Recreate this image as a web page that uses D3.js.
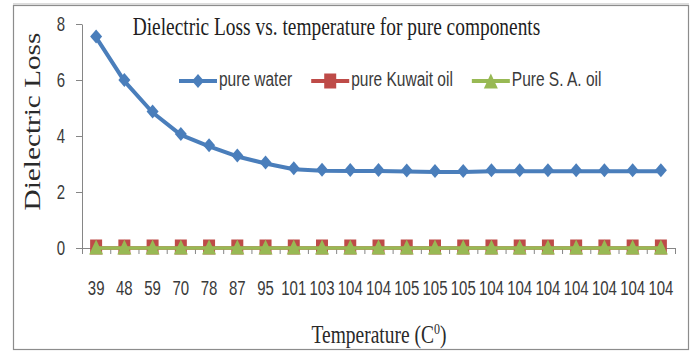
<!DOCTYPE html>
<html>
<head>
<meta charset="utf-8">
<script src="https://cdn.jsdelivr.net/npm/d3@7/dist/d3.min.js"></script>
<style>
  body { margin: 0; background: #fff; }
  svg { display: block; }
</style>
</head>
<body>
<svg width="693" height="353"></svg>
<script>
// category labels (temperatures, repeated values kept as in the sheet)
const temps = ["39","48","59","70","78","87","95","101","103","104","104",
               "105","105","105","104","104","104","104","104","104","104"];
// series values
const pureWater = [7.52,5.96,4.84,4.04,3.63,3.27,3.02,2.81,2.76,2.75,2.75,
                   2.73,2.71,2.71,2.74,2.74,2.74,2.74,2.74,2.74,2.74];
const kuwaitOil = [0,0,0,0,0,0,0,0,0,0,0,0,0,0,0,0,0,0,0,0,0];
const saOil     = [0,0,0,0,0,0,0,0,0,0,0,0,0,0,0,0,0,0,0,0,0];
const yTicks = [0,2,4,6,8];
const seriesNames = ["pure water","pure Kuwait oil","Pure S. A. oil"];

const svg = d3.select("svg");
const SY = 1.3;   // the picture is stretched vertically

// plot box
const plotL = 82, plotR = 675, plotT = 24, plotB = 248;

// chart frame
svg.append("rect")
  .attr("x", 13.5).attr("y", 5.5).attr("width", 675).attr("height", 344)
  .attr("fill", "#fff").attr("stroke", "#8c8c8c").attr("stroke-width", 1.2);
svg.append("line")
  .attr("x1", 13).attr("x2", 689).attr("y1", 4).attr("y2", 4)
  .attr("stroke", "#dcdcdc").attr("stroke-width", 2);

let x = d3.scaleBand().domain(d3.range(temps.length)).range([plotL, plotR]);
let xEdge = d3.scaleLinear().domain([0, temps.length]).range([plotL, plotR]);
let y = d3.scaleLinear().domain([0, 8]).range([plotB, plotT]);

// y axis
let gy = svg.append("g").attr("transform", `translate(${plotL},0)`)
  .call(d3.axisLeft(y).tickValues(yTicks).tickSize(6).tickSizeOuter(0));
gy.select(".domain").attr("stroke", "#868686");
gy.selectAll(".tick line").attr("stroke", "#868686");
gy.selectAll(".tick text")
  .attr("x", 0).attr("dy", 0).attr("y", 0)
  .attr("transform", `translate(-17,6.5) scale(1,${SY})`)
  .attr("text-anchor", "end")
  .style("font-family", "'Liberation Sans', Arial, sans-serif")
  .style("font-size", "15px").attr("fill", "#3a3a3a");

// x axis: ticks between categories, labels at category centres
let gxTicks = svg.append("g").attr("transform", `translate(0,${plotB})`)
  .call(d3.axisBottom(xEdge).tickValues(d3.range(temps.length + 1)).tickFormat("").tickSize(6).tickSizeOuter(0));
gxTicks.select(".domain").attr("stroke", "#868686");
gxTicks.selectAll(".tick line").attr("stroke", "#868686");

let gx = svg.append("g").attr("transform", `translate(0,${plotB})`)
  .call(d3.axisBottom(x).tickSize(0).tickFormat(i => temps[i]));
gx.select(".domain").remove();
gx.selectAll(".tick text")
  .attr("y", 0).attr("dy", 0)
  .attr("transform", `translate(0,47) scale(1,${SY})`)
  .style("font-family", "'Liberation Sans', Arial, sans-serif")
  .style("font-size", "15px").attr("fill", "#3a3a3a");

// series
const cx = i => x(i) + x.bandwidth() / 2;
const line = d3.line().x((d, i) => cx(i)).y(d => y(d));

const diamond = "M0,-7L6,0L0,7L-6,0Z";
const square = "M-6,-7.5H6V7.5H-6Z";
const triangle = "M0,-7.5L7,7.5H-7Z";

function drawSeries(vals, color, shape, lw) {
  svg.append("path").datum(vals)
    .attr("d", line).attr("fill", "none")
    .attr("stroke", color).attr("stroke-width", lw)
    .attr("stroke-linejoin", "round");
  svg.append("g").selectAll("path").data(vals).join("path")
    .attr("d", shape)
    .attr("transform", (d, i) => `translate(${cx(i)},${y(d) - 1})`)
    .attr("fill", color);
}
drawSeries(kuwaitOil, "#be4b48", square, 3.5);
drawSeries(saOil, "#98b954", triangle, 3.5);
drawSeries(pureWater, "#4a7ebb", diamond, 4);

// legend
const legColors = ["#4a7ebb", "#be4b48", "#98b954"];
const legShapes = [diamond, square, triangle];
let lx = 179;
const ly = 81;
seriesNames.forEach((name, k) => {
  let g = svg.append("g");
  g.append("line").attr("x1", lx).attr("x2", lx + 38).attr("y1", ly).attr("y2", ly)
    .attr("stroke", legColors[k]).attr("stroke-width", 4);
  g.append("path").attr("d", legShapes[k])
    .attr("transform", `translate(${lx + 19},${ly})`).attr("fill", legColors[k]);
  let t = g.append("text").text(name)
    .attr("transform", `translate(${lx + 40},86) scale(1,${SY})`)
    .style("font-family", "'Liberation Sans', Arial, sans-serif")
    .style("font-size", "15.5px").attr("fill", "#3a3a3a");
  lx += 40 + t.node().getComputedTextLength() + 19;
});

// title
svg.append("text")
  .text("Dielectric Loss vs. temperature for pure components")
  .attr("transform", `translate(336.5,35) scale(1,${SY})`)
  .attr("text-anchor", "middle")
  .style("font-family", "'Liberation Serif', 'Times New Roman', serif")
  .style("font-size", "19.4px").attr("fill", "#1e1e1e");

// y axis title
svg.append("text")
  .text("Dielectric Loss")
  .attr("transform", `translate(40,121.5) rotate(-90) scale(${SY},1)`)
  .attr("text-anchor", "middle")
  .style("font-family", "'Liberation Serif', 'Times New Roman', serif")
  .style("font-size", "22.5px").attr("fill", "#2a2a2a");

// x axis title
let xt = svg.append("text")
  .attr("transform", `translate(379,343) scale(1,${SY})`)
  .attr("text-anchor", "middle")
  .style("font-family", "'Liberation Serif', 'Times New Roman', serif")
  .style("font-size", "19.5px").attr("fill", "#2a2a2a");
xt.append("tspan").text("Temperature (C");
xt.append("tspan").text("0").attr("dy", -7).style("font-size", "12px");
xt.append("tspan").text(")").attr("dy", 7);
</script>
</body>
</html>
